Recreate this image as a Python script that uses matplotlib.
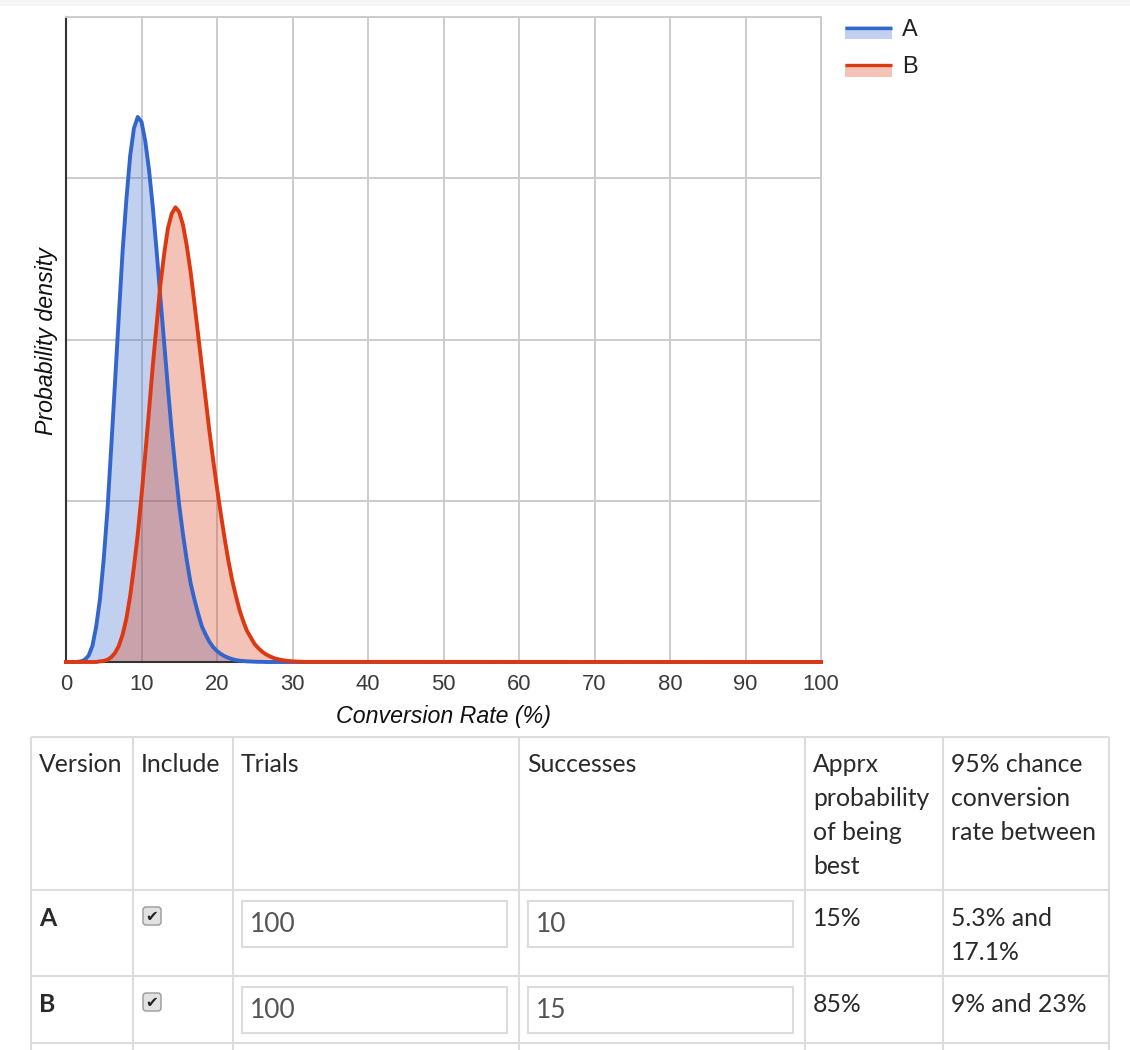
import numpy as np
import matplotlib.pyplot as plt
from matplotlib.patches import Rectangle, FancyBboxPatch

# conversion rate grid (%) and densities
rate = np.append(np.arange(0, 32.5, 0.5), 100)
dens_a = [0, 0, 0, 0.001, 0.004, 0.014, 0.04, 0.10, 0.22, 0.39,
          0.64, 0.95, 1.34, 1.74, 2.15, 2.55, 2.87, 3.14, 3.31, 3.38,
          3.35, 3.23, 3.05, 2.82, 2.55, 2.26, 1.98, 1.70, 1.43, 1.19,
          0.97, 0.79, 0.63, 0.49, 0.39, 0.30, 0.22, 0.17, 0.125, 0.092,
          0.068, 0.050, 0.036, 0.026, 0.018, 0.012, 0.008, 0.006, 0.004, 0.003,
          0.002, 0.001, 0.001, 0, 0, 0, 0, 0, 0, 0,
          0, 0, 0, 0, 0,
          0]
dens_b = [0, 0, 0, 0, 0, 0, 0, 0, 0, 0.004,
          0.007, 0.014, 0.03, 0.057, 0.10, 0.17, 0.27, 0.41, 0.59, 0.79,
          1.03, 1.29, 1.56, 1.84, 2.09, 2.34, 2.53, 2.69, 2.78, 2.82,
          2.79, 2.71, 2.58, 2.42, 2.23, 2.03, 1.83, 1.63, 1.43, 1.25,
          1.08, 0.92, 0.77, 0.63, 0.51, 0.41, 0.32, 0.25, 0.19, 0.15,
          0.11, 0.085, 0.063, 0.047, 0.035, 0.025, 0.018, 0.013, 0.009, 0.006,
          0.004, 0.003, 0.002, 0.001, 0.001,
          0]

names = ["A", "B"]
line_colors = ["#3366cc", "#dc3912"]

# table contents
headers = [["Version"], ["Include"], ["Trials"], ["Successes"],
           ["Apprx", "probability", "of being", "best"],
           ["95% chance", "conversion", "rate between"]]
trials = ["100", "100"]
successes = ["10", "15"]
prob_best = [["15%"], ["85%"]]
interval = [["5.3% and", "17.1%"], ["9% and 23%"]]

W, H = 1130, 1050
fig = plt.figure(figsize=(W / 100, H / 100), dpi=100)

ax = fig.add_axes([66 / W, 1 - 662 / H, 755 / W, 645 / H])
for y, c in zip([dens_a, dens_b], line_colors):
    ax.fill_between(rate, y, color=c, alpha=0.3, lw=0, zorder=2)
for y, c in zip([dens_a, dens_b], line_colors):
    ax.plot(rate, y, color=c, lw=2.8, zorder=3, clip_on=False,
            solid_joinstyle="round")
ax.set_xlim(0, 100)
ax.set_ylim(0, 4)
ax.set_xticks(range(0, 101, 10))
ax.set_yticks([0, 1, 2, 3, 4])
ax.set_yticklabels([])
ax.grid(color="#cccccc", lw=1.4, zorder=0)
ax.set_axisbelow(True)
ax.tick_params(length=0, pad=9, labelsize=15.8, labelcolor="#3a3a3a")
for lab in ax.get_xticklabels():
    lab.set_family("Liberation Sans")
for s in ["left", "bottom"]:
    ax.spines[s].set_color("#333333")
    ax.spines[s].set_linewidth(1.5)
for s in ["top", "right"]:
    ax.spines[s].set_color("#cccccc")
    ax.spines[s].set_linewidth(1.4)

# overlay in pixel coordinates for labels, legend and table
ov = fig.add_axes([0, 0, 1, 1])
ov.set_xlim(0, W)
ov.set_ylim(H, 0)
ov.axis("off")

ov.add_patch(Rectangle((0, 0), W, 6, color="#f5f5f5", lw=0))

ov.text(444, 716, "Conversion Rate (%)", ha="center", va="center",
        fontsize=16.7, style="italic", family="Liberation Sans", color="#111111")
ov.text(47, 341, "Probability density", ha="center", va="center", rotation=90,
        fontsize=16.7, style="italic", family="Liberation Sans", color="#111111")

# legend
for i, (n, c) in enumerate(zip(names, line_colors)):
    y0 = 26 + 37.5 * i
    ov.add_patch(Rectangle((845, y0), 47, 13, color=c, alpha=0.3, lw=0))
    ov.plot([845, 892], [y0 + 1.5, y0 + 1.5], color=c, lw=2.4,
            solid_capstyle="butt")
    ov.text(902, y0 + 3.5, n, ha="left", va="center", fontsize=17,
            family="Liberation Sans", color="#222222")

# table
col_x = [31, 133, 233, 519, 805, 943, 1109]
row_y = [737, 890, 976, 1043]
grid_c = "#dddddd"
for x in col_x:
    ov.plot([x, x], [row_y[0], H], color=grid_c, lw=1.5, solid_capstyle="butt")
for y in row_y:
    ov.plot([col_x[0], col_x[-1]], [y, y], color=grid_c, lw=1.5,
            solid_capstyle="butt")

txt = dict(family="Lato", fontsize=17.8, color="#2a2a2a", va="baseline",
           ha="left")
for j, lines in enumerate(headers):
    for k, line in enumerate(lines):
        ov.text(col_x[j] + 8, 772 + 34 * k, line, **txt)

for i in range(len(names)):
    top = row_y[i + 1]
    base = top + 36
    ov.text(col_x[0] + 8, base, names[i], fontweight="bold", **txt)
    # checkbox
    ov.add_patch(FancyBboxPatch((143, top + 17), 18, 18,
                                boxstyle="round,pad=0,rounding_size=3",
                                facecolor="#e2e2e2", edgecolor="#999999", lw=1))
    ov.text(152, top + 26.5, "\u2714", ha="center", va="center", fontsize=11,
            family="DejaVu Sans", color="#222222")
    # input boxes
    for x0, x1, val in [(242, 507, trials[i]), (528, 793, successes[i])]:
        ov.add_patch(Rectangle((x0, top + 11), x1 - x0, 46, facecolor="white",
                               edgecolor="#dcdcdc", lw=1.5))
        ov.text(x0 + 8, top + 42, val, family="Lato", fontsize=19,
                color="#555555", va="baseline", ha="left")
    for k, line in enumerate(prob_best[i]):
        ov.text(col_x[4] + 8, base + 34 * k, line, **txt)
    for k, line in enumerate(interval[i]):
        ov.text(col_x[5] + 8, base + 34 * k, line, **txt)

fig.savefig("out.png", dpi=100)
